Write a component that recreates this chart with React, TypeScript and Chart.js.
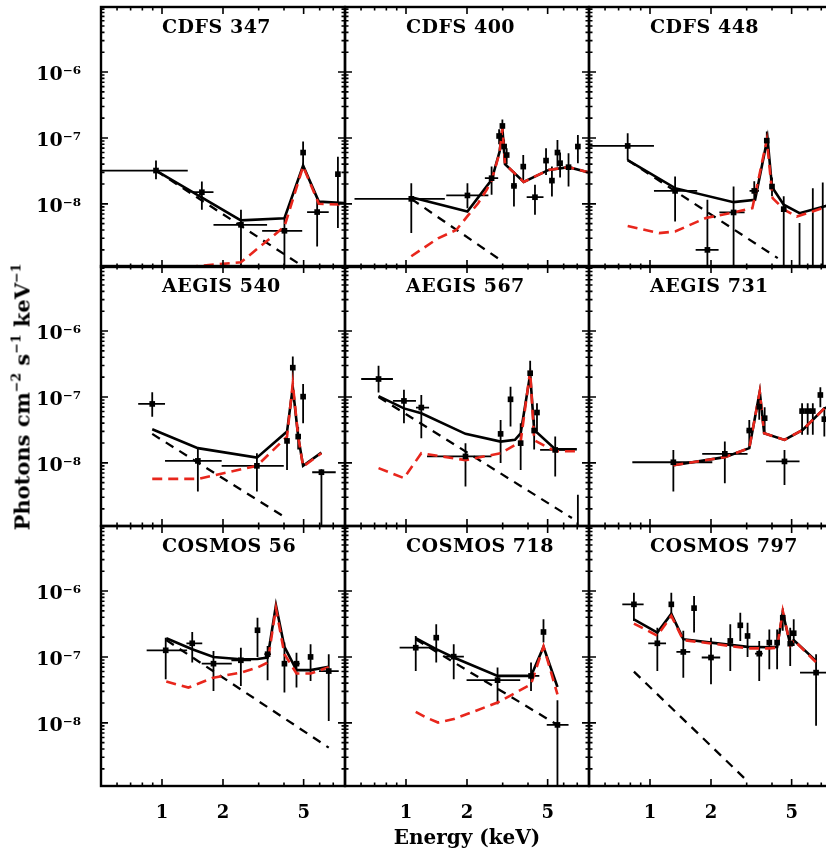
import React, { useEffect, useRef } from "react";
import { Chart, registerables } from "chart.js";
Chart.register(...registerables);

// ---------------- data: [energy keV, flux, xlo, xhi, ylo, yhi] ----------------
const CDFS347_PTS = [
  [0.934, 3.2e-8, 0.5, 1.34, 2.37e-8, 4.53e-8],
  [1.573, 1.5e-8, 1.418, 1.795, 8.1e-9, 2.18e-8],
  [2.453, 4.8e-9, 1.795, 3.3, 9e-10, 8.1e-9],
  [4.02, 3.9e-9, 3.12, 4.92, 9e-10, 6.1e-9],
  [4.97, 6.0e-8, 4.97, 4.97, 3.67e-8, 8.8e-8],
  [5.83, 7.5e-9, 5.2, 6.65, 2.26e-9, 1.15e-8],
  [7.38, 2.82e-8, 7.38, 7.38, 4.3e-9, 5.2e-8],
];
const CDFS347_MODEL = [[0.934, 3.2e-8], [2.45, 5.6e-9], [4.02, 6.05e-9], [4.97, 3.8e-8], [5.94, 1.08e-8], [7.9, 1.03e-8], [8.0, 1.03e-8]];
const CDFS347_RED = [[0.934, 1.0e-9], [1.57, 1.15e-9], [2.45, 1.3e-9], [4.02, 4.5e-9], [4.97, 3.7e-8], [5.94, 1.0e-8], [7.9, 9.7e-9], [8.0, 9.7e-9]];
const CDFS347_PL = [[0.934, 3.2e-8], [4.97, 1.12e-9]];

const CDFS400_PTS = [
  [1.062, 1.19e-8, 0.557, 1.555, 3.6e-9, 2.06e-8],
  [2.01, 1.34e-8, 1.58, 2.55, 8.6e-9, 2.06e-8],
  [2.645, 2.45e-8, 2.45, 2.85, 1.37e-8, 3.67e-8],
  [2.88, 1.07e-7, 2.84, 2.92, 8.0e-8, 1.35e-7],
  [2.99, 1.52e-7, 2.95, 3.03, 1.2e-7, 1.9e-7],
  [3.05, 7.4e-8, 3.01, 3.09, 5.5e-8, 9.5e-8],
  [3.14, 5.5e-8, 3.1, 3.18, 4.0e-8, 7.0e-8],
  [3.41, 1.87e-8, 3.3, 3.52, 9.1e-9, 3.1e-8],
  [3.79, 3.67e-8, 3.7, 3.88, 2.3e-8, 5.5e-8],
  [4.33, 1.26e-8, 3.94, 4.77, 6.8e-9, 1.94e-8],
  [4.91, 4.53e-8, 4.8, 5.02, 2.75e-8, 7.0e-8],
  [5.25, 2.25e-8, 5.15, 5.35, 1.29e-8, 3.67e-8],
  [5.59, 6.0e-8, 5.49, 5.69, 3.67e-8, 9.3e-8],
  [5.76, 4.14e-8, 5.66, 5.86, 2.5e-8, 6.0e-8],
  [6.34, 3.6e-8, 6.2, 6.5, 1.83e-8, 5.87e-8],
  [7.05, 7.4e-8, 6.9, 7.2, 4.14e-8, 1.11e-7],
];
const CDFS400_MODEL = [[1.062, 1.26e-8], [2.01, 7.65e-9], [2.645, 2.31e-8], [2.897, 6.2e-8], [2.99, 1.4e-7], [3.08, 4.0e-8], [3.81, 2.15e-8], [5.06, 3.27e-8], [6.34, 3.6e-8], [7.66, 3.1e-8], [8.0, 3.0e-8]];
const CDFS400_RED = [[1.062, 1.6e-9], [1.44, 3.0e-9], [1.77, 4.0e-9], [2.01, 6.5e-9], [2.27, 1.02e-8], [2.5, 1.63e-8], [2.645, 2.25e-8], [2.897, 6.0e-8], [2.99, 1.4e-7], [3.08, 4.0e-8], [3.81, 2.15e-8], [5.06, 3.27e-8], [6.34, 3.6e-8], [7.66, 3.1e-8], [8.0, 3.0e-8]];
const CDFS400_PL = [[1.062, 1.19e-8], [2.91, 1.42e-9]];

const CDFS448_PTS = [
  [0.776, 7.56e-8, 0.5, 1.046, 4.6e-8, 1.18e-7],
  [1.33, 1.57e-8, 1.046, 1.71, 5.4e-9, 2.6e-8],
  [1.92, 2.0e-9, 1.68, 2.18, 9e-10, 1.15e-8],
  [2.585, 7.4e-9, 2.2, 2.93, 9e-10, 1.83e-8],
  [3.27, 1.57e-8, 3.1, 3.45, 1.1e-8, 2.2e-8],
  [3.77, 9.1e-8, 3.72, 3.82, 6.5e-8, 1.25e-7],
  [4.0, 1.83e-8, 3.95, 4.05, 1.3e-8, 2.5e-8],
  [4.57, 8.3e-9, 4.45, 4.7, 9e-10, 1.3e-8],
  [5.47, 9e-10, 5.47, 5.47, 9e-10, 5.1e-9],
  [6.36, 9e-10, 6.36, 6.36, 9e-10, 1.73e-8],
  [7.12, 9e-10, 7.12, 7.12, 9e-10, 2.1e-8],
];
const CDFS448_MODEL = [[0.776, 4.6e-8], [1.33, 1.73e-8], [2.585, 1.06e-8], [3.3, 1.15e-8], [3.8, 9.9e-8], [4.0, 1.8e-8], [4.57, 9.7e-9], [5.47, 7.2e-9], [7.37, 9.3e-9], [8.0, 1.05e-8]];
const CDFS448_RED = [[0.776, 4.6e-9], [1.108, 3.6e-9], [1.33, 3.8e-9], [1.886, 6.1e-9], [2.585, 7.4e-9], [3.2, 8.6e-9], [3.77, 9.3e-8], [4.03, 1.22e-8], [4.61, 8.1e-9], [5.3, 6.4e-9], [7.12, 8.6e-9], [8.0, 1.0e-8]];
const CDFS448_PL = [[0.776, 4.6e-8], [4.27, 1.5e-9]];

const AEGIS540_PTS = [
  [0.895, 7.83e-8, 0.763, 1.035, 5.0e-8, 1.18e-7],
  [1.503, 1.07e-8, 1.035, 1.97, 3.67e-9, 1.67e-8],
  [2.94, 9.0e-9, 1.97, 3.99, 3.67e-9, 1.4e-8],
  [4.14, 2.15e-8, 4.14, 4.14, 7.8e-9, 3.16e-8],
  [4.42, 2.78e-7, 4.38, 4.46, 1.8e-7, 4.1e-7],
  [4.7, 2.5e-8, 4.7, 4.7, 1.6e-8, 3.5e-8],
  [4.97, 1.01e-7, 4.97, 4.97, 4.0e-8, 1.57e-7],
  [6.12, 7.2e-9, 5.51, 7.2, 9e-10, 8.0e-9],
];
const AEGIS540_MODEL = [[0.895, 3.24e-8], [1.503, 1.67e-8], [2.94, 1.2e-8], [4.14, 2.98e-8], [4.42, 1.4e-7], [4.7, 2.5e-8], [4.97, 9.0e-9], [6.12, 1.43e-8]];
const AEGIS540_RED = [[0.895, 5.7e-9], [1.503, 5.7e-9], [2.94, 9.0e-9], [4.14, 2.5e-8], [4.42, 1.6e-7], [4.7, 2.5e-8], [4.97, 8.8e-9], [6.12, 1.4e-8]];
const AEGIS540_PL = [[0.895, 2.75e-8], [3.98, 1.54e-9]];

const AEGIS567_PTS = [
  [0.732, 1.87e-7, 0.601, 0.862, 1.17e-7, 2.96e-7],
  [0.977, 8.7e-8, 0.862, 1.12, 4.0e-8, 1.28e-7],
  [1.19, 6.9e-8, 1.12, 1.3, 2.37e-8, 1.07e-7],
  [1.966, 1.25e-8, 1.27, 2.64, 4.37e-9, 1.99e-8],
  [2.93, 2.75e-8, 2.93, 2.93, 9.9e-9, 4.48e-8],
  [3.28, 9.2e-8, 3.28, 3.28, 3.55e-8, 1.43e-7],
  [3.68, 1.99e-8, 3.68, 3.68, 7.8e-9, 4.0e-8],
  [4.1, 2.29e-7, 4.06, 4.14, 1.43e-7, 3.55e-7],
  [4.29, 3.09e-8, 4.29, 4.29, 1.6e-8, 4.5e-8],
  [4.43, 5.8e-8, 4.43, 4.43, 3.0e-8, 8.0e-8],
  [5.45, 1.57e-8, 4.59, 6.34, 6.2e-9, 2.5e-8],
  [7.05, 9e-10, 7.05, 7.05, 9e-10, 3.27e-9],
];
const AEGIS567_MODEL = [[0.732, 1.03e-7], [0.977, 6.7e-8], [1.19, 5.66e-8], [1.966, 2.75e-8], [2.93, 2.1e-8], [3.45, 2.23e-8], [3.68, 2.8e-8], [4.1, 2.2e-7], [4.29, 3.16e-8], [5.45, 1.61e-8], [6.97, 1.61e-8]];
const AEGIS567_RED = [[0.732, 8.3e-9], [0.977, 5.86e-9], [1.19, 1.4e-8], [1.966, 1.1e-8], [2.93, 1.4e-8], [3.68, 2.1e-8], [4.1, 2.5e-7], [4.29, 2.2e-8], [5.45, 1.5e-8], [6.97, 1.5e-8]];
const AEGIS567_PL = [[0.732, 1.0e-7], [6.59, 1.45e-9]];

const AEGIS731_PTS = [
  [1.304, 1.02e-8, 0.818, 2.03, 3.67e-9, 1.57e-8],
  [2.34, 1.37e-8, 1.81, 3.03, 4.9e-9, 2.1e-8],
  [3.09, 3.09e-8, 3.0, 3.18, 1.77e-8, 4.48e-8],
  [3.46, 7.1e-8, 3.42, 3.5, 4.5e-8, 1.1e-7],
  [3.68, 4.76e-8, 3.64, 3.72, 2.8e-8, 7.0e-8],
  [4.61, 1.05e-8, 3.74, 5.47, 4.6e-9, 1.57e-8],
  [5.63, 6.1e-8, 5.55, 5.71, 2.66e-8, 8.0e-8],
  [6.0, 6.1e-8, 5.92, 6.08, 2.66e-8, 8.0e-8],
  [6.36, 6.1e-8, 6.28, 6.44, 2.66e-8, 8.0e-8],
  [6.93, 1.07e-7, 6.93, 6.93, 7.0e-8, 1.4e-7],
  [7.25, 4.6e-8, 7.25, 7.25, 2.5e-8, 7.0e-8],
];
const AEGIS731_MODEL = [[1.304, 9.2e-9], [2.34, 1.22e-8], [3.09, 1.67e-8], [3.48, 1.2e-7], [3.66, 2.8e-8], [4.61, 2.23e-8], [5.67, 3.16e-8], [7.25, 6.7e-8], [8.0, 7.5e-8]];
const AEGIS731_RED = [[1.304, 9.2e-9], [2.34, 1.22e-8], [3.09, 1.67e-8], [3.48, 1.2e-7], [3.66, 2.8e-8], [4.61, 2.23e-8], [5.67, 3.16e-8], [7.25, 6.7e-8], [8.0, 7.5e-8]];
const AEGIS731_PL: number[][] = [];

const COSMOS56_PTS = [
  [1.043, 1.26e-7, 0.84, 1.33, 4.6e-8, 1.96e-7],
  [1.41, 1.61e-7, 1.32, 1.58, 8.2e-8, 2.38e-7],
  [1.795, 7.9e-8, 1.57, 2.21, 3.05e-8, 1.23e-7],
  [2.45, 8.9e-8, 2.2, 2.75, 3.63e-8, 1.38e-7],
  [2.96, 2.54e-7, 2.96, 2.96, 1.0e-7, 3.94e-7],
  [3.32, 1.1e-7, 3.2, 3.45, 4.44e-8, 1.47e-7],
  [4.02, 7.9e-8, 4.02, 4.02, 2.88e-8, 1.65e-7],
  [4.61, 7.9e-8, 4.45, 4.78, 3.43e-8, 1.16e-7],
  [5.41, 1.0e-7, 5.41, 5.41, 4.33e-8, 1.56e-7],
  [6.65, 6.1e-8, 5.95, 7.45, 1.07e-8, 1.1e-7],
];
const COSMOS56_MODEL = [[1.05, 1.92e-7], [1.41, 1.31e-7], [1.795, 1.0e-7], [2.45, 9.2e-8], [2.96, 9.3e-8], [3.32, 9.8e-8], [3.65, 6.1e-7], [4.02, 1.42e-7], [4.61, 6.3e-8], [5.41, 6.3e-8], [6.65, 7.1e-8]];
const COSMOS56_RED = [[1.05, 4.23e-8], [1.35, 3.43e-8], [1.795, 4.85e-8], [2.45, 5.78e-8], [2.96, 6.9e-8], [3.32, 8.2e-8], [3.65, 5.5e-7], [4.02, 1.1e-7], [4.61, 5.6e-8], [5.41, 5.6e-8], [6.65, 7.0e-8]];
const COSMOS56_PL = [[1.05, 1.8e-7], [6.65, 4.2e-9]];

const COSMOS718_PTS = [
  [1.117, 1.38e-7, 0.93, 1.33, 6.14e-8, 2.08e-7],
  [1.41, 1.96e-7, 1.41, 1.41, 8.2e-8, 3.14e-7],
  [1.72, 1.01e-7, 1.55, 1.93, 4.6e-8, 1.56e-7],
  [2.83, 4.44e-8, 1.99, 3.66, 1.92e-8, 6.9e-8],
  [4.14, 5.15e-8, 3.8, 4.55, 3.05e-8, 8.2e-8],
  [4.77, 2.39e-7, 4.77, 4.77, 1.65e-7, 3.72e-7],
  [5.59, 9.3e-9, 4.95, 6.34, 9e-10, 2.2e-8],
];
const COSMOS718_MODEL = [[1.117, 1.92e-7], [1.41, 1.31e-7], [1.72, 9.8e-8], [2.83, 5.15e-8], [4.14, 5.15e-8], [4.77, 1.42e-7], [5.59, 3.5e-8]];
const COSMOS718_RED = [[1.117, 1.47e-8], [1.26, 1.2e-8], [1.44, 1.01e-8], [1.72, 1.14e-8], [2.83, 2.03e-8], [4.14, 3.85e-8], [4.77, 1.45e-7], [5.59, 2.7e-8]];
const COSMOS718_PL = [[1.117, 1.85e-7], [5.59, 9.3e-9]];

const COSMOS797_PTS = [
  [0.833, 6.28e-7, 0.73, 0.93, 3.5e-7, 9.4e-7],
  [1.087, 1.61e-7, 0.98, 1.2, 6.14e-8, 2.76e-7],
  [1.274, 6.28e-7, 1.274, 1.274, 3.9e-7, 9.4e-7],
  [1.46, 1.19e-7, 1.35, 1.58, 4.85e-8, 2.5e-7],
  [1.65, 5.5e-7, 1.65, 1.65, 2.34e-7, 8.4e-7],
  [2.0, 9.8e-8, 1.8, 2.22, 3.85e-8, 1.96e-7],
  [2.49, 1.75e-7, 2.49, 2.49, 6.14e-8, 3.14e-7],
  [2.79, 3.02e-7, 2.79, 2.79, 1.75e-7, 4.7e-7],
  [3.03, 2.08e-7, 3.03, 3.03, 1.0e-7, 3.3e-7],
  [3.46, 1.12e-7, 3.3, 3.6, 4.33e-8, 1.75e-7],
  [3.88, 1.65e-7, 3.88, 3.88, 6.5e-8, 2.6e-7],
  [4.24, 1.65e-7, 4.24, 4.24, 6.5e-8, 2.6e-7],
  [4.52, 3.94e-7, 4.52, 4.52, 2.5e-7, 5.5e-7],
  [4.92, 1.59e-7, 4.92, 4.92, 7.3e-8, 2.76e-7],
  [5.12, 2.29e-7, 5.12, 5.12, 1.47e-7, 3.72e-7],
  [6.6, 5.78e-8, 5.5, 8.0, 9.0e-9, 1.1e-7],
];
const COSMOS797_MODEL = [[0.833, 3.72e-7], [1.087, 2.34e-7], [1.274, 4.5e-7], [1.46, 1.86e-7], [2.0, 1.65e-7], [3.03, 1.42e-7], [3.88, 1.4e-7], [4.24, 1.42e-7], [4.52, 4.7e-7], [4.92, 1.56e-7], [5.12, 1.8e-7], [6.6, 8.7e-8]];
const COSMOS797_RED = [[0.833, 3.2e-7], [1.087, 2.1e-7], [1.274, 4.2e-7], [1.46, 1.8e-7], [2.0, 1.6e-7], [3.03, 1.35e-7], [3.88, 1.35e-7], [4.24, 1.38e-7], [4.52, 5.0e-7], [4.92, 1.5e-7], [5.12, 1.8e-7], [6.6, 8.3e-8]];
const COSMOS797_PL = [[0.833, 5.98e-8], [2.92, 1.45e-9]];

const PANEL_TITLES = ["CDFS 347", "CDFS 400", "CDFS 448", "AEGIS 540", "AEGIS 567", "AEGIS 731", "COSMOS 56", "COSMOS 718", "COSMOS 797"];
const PANEL_PTS = [CDFS347_PTS, CDFS400_PTS, CDFS448_PTS, AEGIS540_PTS, AEGIS567_PTS, AEGIS731_PTS, COSMOS56_PTS, COSMOS718_PTS, COSMOS797_PTS];
const PANEL_MODEL = [CDFS347_MODEL, CDFS400_MODEL, CDFS448_MODEL, AEGIS540_MODEL, AEGIS567_MODEL, AEGIS731_MODEL, COSMOS56_MODEL, COSMOS718_MODEL, COSMOS797_MODEL];
const PANEL_RED = [CDFS347_RED, CDFS400_RED, CDFS448_RED, AEGIS540_RED, AEGIS567_RED, AEGIS731_RED, COSMOS56_RED, COSMOS718_RED, COSMOS797_RED];
const PANEL_PL = [CDFS347_PL, CDFS400_PL, CDFS448_PL, AEGIS540_PL, AEGIS567_PL, AEGIS731_PL, COSMOS56_PL, COSMOS718_PL, COSMOS797_PL];

// axes
const X_MIN = 0.5, X_MAX = 8;
const Y_MIN = 1.1e-9, Y_MAX = 9.7e-6;
const X_TICKS = [1, 2, 5];
const X_TICK_LABELS = ["1", "2", "5"];
const X_MINOR = [0.6, 0.7, 0.8, 0.9, 3, 4, 6, 7, 8];
const Y_TICKS = [1e-8, 1e-7, 1e-6];
const Y_TICK_LABELS = ["10\u207B\u2078", "10\u207B\u2077", "10\u207B\u2076"];
const Y_DECADES = [1e-9, 1e-8, 1e-7, 1e-6];
const Y_MINOR_MULT = [2, 3, 4, 5, 6, 7, 8, 9];

// layout
const LEFTS = [101, 345, 589];
const TOPS = [7, 266, 526];
const PW = 244, PH = 260;
const PAD = 6, XAX = 52;
const RED = "#e8261c";
const FONT = "'DejaVu Serif', serif";

const errorBarPlugin = {
  id: "errbars",
  beforeDatasetsDraw(chart: any) {
    const { ctx, chartArea: a, scales } = chart;
    const xs = scales.x, ys = scales.y;
    const ds = chart.data.datasets.find((d: any) => d.errorBars);
    if (!ds) return;
    ctx.save();
    ctx.beginPath();
    ctx.rect(a.left, a.top, a.right - a.left, a.bottom - a.top);
    ctx.clip();
    ctx.strokeStyle = "#000";
    ctx.lineWidth = 1.8;
    ctx.beginPath();
    for (const p of ds.data) {
      const px = xs.getPixelForValue(p.x), py = ys.getPixelForValue(p.y);
      if (p.xhi > p.xlo) {
        ctx.moveTo(xs.getPixelForValue(p.xlo), py);
        ctx.lineTo(xs.getPixelForValue(p.xhi), py);
      }
      ctx.moveTo(px, ys.getPixelForValue(p.ylo));
      ctx.lineTo(px, ys.getPixelForValue(p.yhi));
    }
    ctx.stroke();
    ctx.restore();
  },
};

const framePlugin = {
  id: "frame",
  afterDraw(chart: any) {
    const { ctx, chartArea: a, scales } = chart;
    const xs = scales.x, ys = scales.y;
    ctx.save();
    ctx.strokeStyle = "#000";
    ctx.lineWidth = 1.6;
    ctx.beginPath();
    const xt = (v: number, len: number) => {
      const px = xs.getPixelForValue(v);
      ctx.moveTo(px, a.bottom); ctx.lineTo(px, a.bottom - len);
      ctx.moveTo(px, a.top); ctx.lineTo(px, a.top + len);
    };
    const yt = (v: number, len: number) => {
      const py = ys.getPixelForValue(v);
      if (py < a.top - 0.5 || py > a.bottom + 0.5) return;
      ctx.moveTo(a.left, py); ctx.lineTo(a.left + len, py);
      ctx.moveTo(a.right, py); ctx.lineTo(a.right - len, py);
    };
    X_TICKS.forEach((v) => xt(v, 7));
    X_MINOR.forEach((v) => xt(v, 3.5));
    Y_DECADES.forEach((d) => {
      yt(d, 7);
      Y_MINOR_MULT.forEach((m) => yt(d * m, 3.5));
    });
    ctx.stroke();
    ctx.lineWidth = 2.4;
    ctx.strokeRect(a.left, a.top, a.right - a.left, a.bottom - a.top);
    ctx.restore();
  },
};

function Panel({ idx }: { idx: number }) {
  const ref = useRef<HTMLCanvasElement>(null);
  const r = Math.floor(idx / 3), c = idx % 3;
  const showX = r === 2, showY = c === 0;
  const cl = showY ? 0 : LEFTS[c] - PAD;
  const ct = TOPS[r] - PAD;
  const cw = (showY ? LEFTS[0] : PAD) + PW + PAD;
  const ch = PAD + PH + (showX ? XAX : PAD);

  useEffect(() => {
    const xy = (arr: number[][]) => arr.map(([x, y]) => ({ x, y }));
    const pts = PANEL_PTS[idx].map(([x, y, xlo, xhi, ylo, yhi]) => ({ x, y, xlo, xhi, ylo, yhi }));
    const chart = new Chart(ref.current as HTMLCanvasElement, {
      type: "scatter",
      data: {
        datasets: [
          {
            label: "data",
            data: pts,
            showLine: false,
            pointStyle: "rect",
            pointRadius: 4,
            backgroundColor: "#000",
            borderColor: "#000",
            borderWidth: 0,
            errorBars: true,
          } as any,
          {
            label: "reflection",
            data: xy(PANEL_RED[idx]),
            showLine: true,
            borderColor: RED,
            borderWidth: 2.6,
            borderDash: [10, 6],
            pointRadius: 0,
          },
          {
            label: "total",
            data: xy(PANEL_MODEL[idx]),
            showLine: true,
            borderColor: "#000",
            borderWidth: 2.6,
            pointRadius: 0,
          },
          {
            label: "powerlaw",
            data: xy(PANEL_PL[idx]),
            showLine: true,
            borderColor: "#000",
            borderWidth: 2.3,
            borderDash: [9, 7],
            pointRadius: 0,
          },
        ],
      },
      options: {
        animation: false,
        responsive: false,
        events: [],
        layout: { padding: { left: showY ? 0 : PAD, right: PAD, top: PAD, bottom: showX ? 0 : PAD } },
        plugins: { legend: { display: false }, tooltip: { enabled: false } },
        scales: {
          x: {
            type: "logarithmic",
            min: X_MIN,
            max: X_MAX,
            display: showX,
            afterBuildTicks: (s: any) => { s.ticks = X_TICKS.map((v) => ({ value: v })); },
            afterFit: (s: any) => {
              if (showX) s.height = XAX;
              s.paddingLeft = 0; s.paddingRight = 0; s.paddingTop = 0; s.paddingBottom = 0;
            },
            grid: { display: false },
            border: { display: false },
            ticks: {
              autoSkip: false,
              maxRotation: 0,
              padding: 9,
              color: "#000",
              font: { family: FONT, weight: "bold", size: 18 },
              callback: (_v: any, i: number) => X_TICK_LABELS[i],
            },
          },
          y: {
            type: "logarithmic",
            min: Y_MIN,
            max: Y_MAX,
            display: showY,
            afterBuildTicks: (s: any) => { s.ticks = Y_TICKS.map((v) => ({ value: v })); },
            afterFit: (s: any) => {
              if (showY) s.width = LEFTS[0];
              s.paddingLeft = 0; s.paddingRight = 0; s.paddingTop = 0; s.paddingBottom = 0;
            },
            grid: { display: false },
            border: { display: false },
            ticks: {
              autoSkip: false,
              padding: 12,
              labelOffset: 3,
              color: "#000",
              font: { family: FONT, weight: "bold", size: 19 },
              callback: (_v: any, i: number) => Y_TICK_LABELS[i],
            },
          },
        },
      } as any,
      plugins: [errorBarPlugin, framePlugin],
    });
    return () => chart.destroy();
  }, [idx]);

  return (
    <canvas
      ref={ref}
      width={cw}
      height={ch}
      style={{ position: "absolute", left: cl, top: ct, width: cw, height: ch }}
    />
  );
}

export default function App() {
  const supStyle: React.CSSProperties = { fontSize: "0.6em", verticalAlign: "0.75em", lineHeight: 0 };
  return (
    <div style={{ position: "absolute", left: 0, top: 0, width: 826, height: 849, overflow: "hidden", background: "#fff" }}>
      {PANEL_TITLES.map((_, i) => <Panel key={i} idx={i} />)}
      {PANEL_TITLES.map((t, i) => (
        <div
          key={"t" + i}
          style={{
            position: "absolute",
            left: LEFTS[i % 3] + 61,
            top: TOPS[Math.floor(i / 3)] + 10,
            font: `bold 19px ${FONT}`,
            lineHeight: 1,
            letterSpacing: "0.5px",
            whiteSpace: "nowrap",
            color: "#000",
          }}
        >
          {t}
        </div>
      ))}
      <div
        style={{
          position: "absolute",
          left: 22,
          top: 397,
          transform: "translate(-50%, -50%) rotate(-90deg)",
          font: `bold 21px ${FONT}`,
          lineHeight: 1,
          whiteSpace: "nowrap",
          color: "#000",
        }}
      >
        Photons cm<span style={supStyle}>{"\u22122"}</span> s<span style={supStyle}>{"\u22121"}</span> keV<span style={supStyle}>{"\u22121"}</span>
      </div>
      <div
        style={{
          position: "absolute",
          left: 467,
          top: 837,
          transform: "translate(-50%, -50%)",
          font: `bold 20px ${FONT}`,
          lineHeight: 1,
          whiteSpace: "nowrap",
          color: "#000",
        }}
      >
        Energy (keV)
      </div>
    </div>
  );
}
